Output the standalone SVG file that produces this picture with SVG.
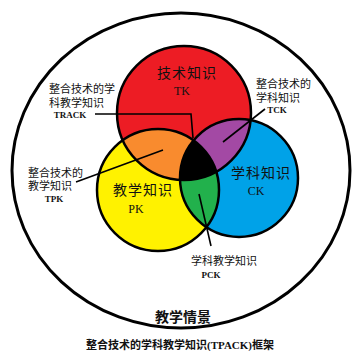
<svg xmlns="http://www.w3.org/2000/svg" width="353" height="351" viewBox="0 0 353 351">
<style>
.edge{fill:none;stroke:#000;stroke-width:2.5}
.lead{fill:none;stroke:#000;stroke-width:1.6}
.big{font-family:"Liberation Serif","Noto Sans CJK SC",serif;font-size:14px;fill:#111;text-anchor:middle}
.abbr{font-family:"Liberation Serif","Noto Sans CJK SC",serif;font-size:12px;fill:#111;text-anchor:middle}
.lbl{font-family:"Liberation Serif","Noto Sans CJK SC",serif;font-size:11px;fill:#111}
.sm{font-family:"Liberation Serif","Noto Sans CJK SC",serif;font-size:9px;font-weight:bold;fill:#111;text-anchor:middle}
</style>
<defs>
<clipPath id="cT"><circle cx="184" cy="113" r="67"/></clipPath>
<clipPath id="cP"><circle cx="158" cy="190" r="61"/></clipPath>
<clipPath id="cC"><circle cx="239" cy="178" r="59"/></clipPath>
</defs>
<rect width="353" height="351" fill="#fff"/>
<g id="context">
<ellipse cx="181" cy="170.5" rx="169" ry="157.5" fill="#fff" stroke="#000" stroke-width="3"/>
<text class="big" x="183" y="322" font-weight="bold">教学情景</text>
</g>
<g id="TK"><circle cx="184" cy="113" r="67" fill="#ED1C24"/></g>
<g id="PK"><circle cx="158" cy="190" r="61" fill="#FFF200"/></g>
<g id="CK"><circle cx="239" cy="178" r="59" fill="#00A2E8"/></g>
<g id="TPK"><g clip-path="url(#cT)"><circle cx="158" cy="190" r="61" fill="#F98B2E"/></g></g>
<g id="TCK"><g clip-path="url(#cT)"><circle cx="239" cy="178" r="59" fill="#A349A4"/></g></g>
<g id="PCK"><g clip-path="url(#cP)"><circle cx="239" cy="178" r="59" fill="#22B14C"/></g></g>
<g id="TPACK"><g clip-path="url(#cT)"><g clip-path="url(#cP)"><circle cx="239" cy="178" r="59" fill="#000"/></g></g></g>
<g id="outlines">
<circle class="edge" cx="184" cy="113" r="67"/>
<circle class="edge" cx="158" cy="190" r="61"/>
<circle class="edge" cx="239" cy="178" r="59"/>
</g>
<g id="labels">
<text class="big" x="187" y="78" letter-spacing="1">技术知识</text>
<text class="abbr" x="182" y="95">TK</text>
<text class="big" x="261" y="178" letter-spacing="1">学科知识</text>
<text class="abbr" x="256" y="195">CK</text>
<text class="big" x="143" y="195" letter-spacing="1">教学知识</text>
<text class="abbr" x="136" y="213">PK</text>
<text class="lbl" x="49" y="93">整合技术的学</text>
<text class="lbl" x="49" y="107">科教学知识</text>
<text class="sm" x="70" y="118">TRACK</text>
<text class="lbl" x="28" y="177">整合技术的</text>
<text class="lbl" x="28" y="190">教学知识</text>
<text class="sm" x="54" y="202">TPK</text>
<text class="lbl" x="256" y="88">整合技术的</text>
<text class="lbl" x="256" y="102">学科知识</text>
<text class="sm" x="277" y="113">TCK</text>
<text class="lbl" x="191" y="265">学科教学知识</text>
<text class="sm" x="211" y="278">PCK</text>
</g>
<g id="connectors">
<polyline class="lead" points="95,114 191,114 193,138"/>
<line class="lead" x1="76" y1="182" x2="163" y2="150"/>
<line class="lead" x1="265" y1="109" x2="223" y2="142"/>
<line class="lead" x1="199" y1="194" x2="211" y2="246"/>
</g>
<text x="180" y="349" font-family="Liberation Serif,Noto Sans CJK SC,serif" font-size="11" font-weight="bold" text-anchor="middle" fill="#111">整合技术的学科教学知识(TPACK)框架</text>
</svg>
